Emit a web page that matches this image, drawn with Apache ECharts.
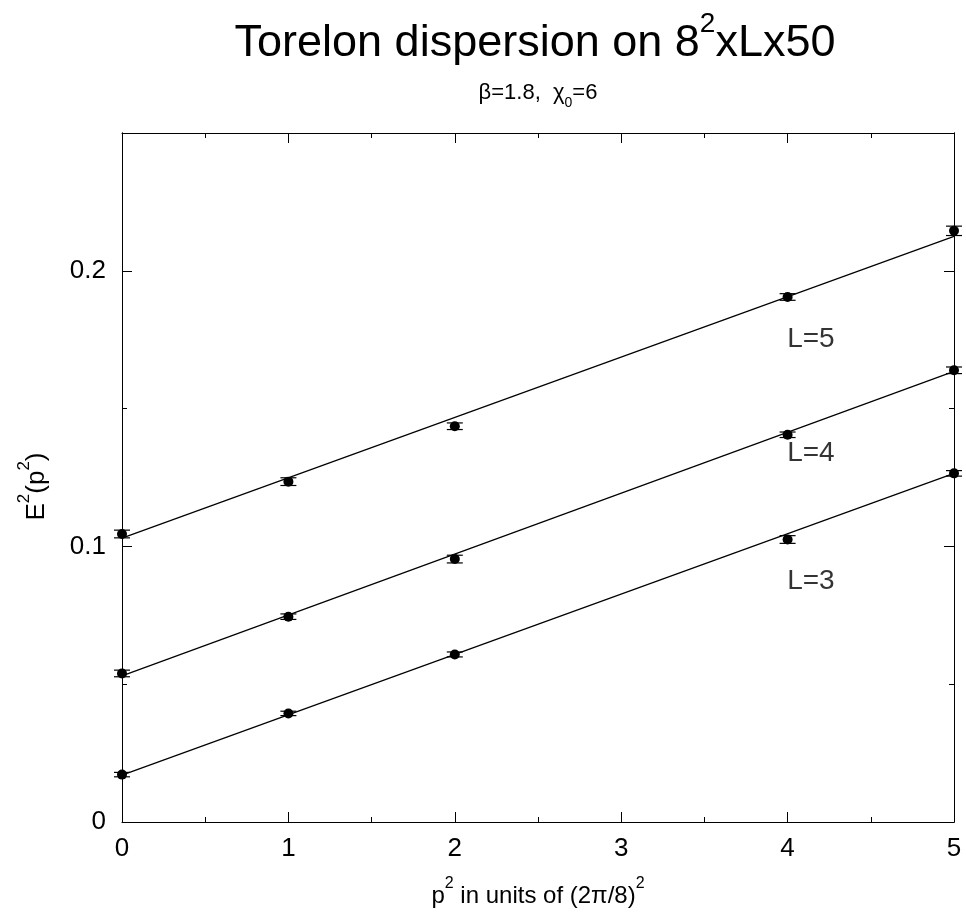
<!DOCTYPE html>
<html>
<head>
<meta charset="utf-8">
<script src="https://cdn.jsdelivr.net/npm/echarts@6/dist/echarts.min.js"></script>
<style>
  html, body { margin: 0; padding: 0; background: #fff; }
  #chart { width: 966px; height: 913px; }
</style>
</head>
<body>
<div id="chart"></div>
<script>
// momentum squared, in units of (2pi/8)^2
const p2 = [0, 1, 2, 4, 5];

// E^2(p^2) for each spatial size L
const e2L3 = [0.0172, 0.0394, 0.0608, 0.1025, 0.1265];
const e2L4 = [0.0539, 0.0745, 0.0954, 0.1405, 0.1639];
const e2L5 = [0.1045, 0.1235, 0.1436, 0.1905, 0.2145];

// error bars (half widths)
const errL3 = [0.0008, 0.0008, 0.0009, 0.0014, 0.0010];
const errL4 = [0.0012, 0.0010, 0.0014, 0.0010, 0.0012];
const errL5 = [0.0014, 0.0014, 0.0012, 0.0012, 0.0017];

// straight line fits, end points
const fitX = [0, 5];
const fitL3 = [0.0170, 0.1265];
const fitL4 = [0.0530, 0.1635];
const fitL5 = [0.1030, 0.2125];

// curve labels
const labelText = ["L=5", "L=4", "L=3"];
const labelX = [4.14, 4.14, 4.14];
const labelY = [0.1753, 0.1338, 0.0875];

const xTicks = [0, 1, 2, 3, 4, 5];
const yTicks = [0, 0.1, 0.2];

const font = '"Liberation Sans", Arial, Helvetica, sans-serif';
const black = "#000";

const chart = echarts.init(document.getElementById("chart"), null, { renderer: "canvas" });

function pairs(xs, ys) {
  return xs.map((x, i) => [x, ys[i]]);
}

function errRows(ys, errs) {
  return p2.map((x, i) => [x, ys[i] - errs[i], ys[i] + errs[i]]);
}

function renderErrorBar(params, api) {
  const x = api.value(0);
  const lo = api.coord([x, api.value(1)]);
  const hi = api.coord([x, api.value(2)]);
  const half = 8;
  const style = { stroke: black, lineWidth: 1.2 };
  return {
    type: "group",
    children: [
      { type: "line", shape: { x1: lo[0], y1: lo[1], x2: hi[0], y2: hi[1] }, style },
      { type: "line", shape: { x1: lo[0] - half, y1: lo[1], x2: lo[0] + half, y2: lo[1] }, style },
      { type: "line", shape: { x1: hi[0] - half, y1: hi[1], x2: hi[0] + half, y2: hi[1] }, style },
    ],
  };
}

function xAxisDef(position, showLabel) {
  return {
    type: "value",
    position,
    min: 0,
    max: 5,
    interval: 1,
    axisLine: { show: true, onZero: false, lineStyle: { color: black, width: 1 } },
    axisTick: { show: true, inside: true, length: 10, lineStyle: { color: black } },
    minorTick: { show: true, splitNumber: 2, length: 5, lineStyle: { color: black } },
    splitLine: { show: false },
    minorSplitLine: { show: false },
    axisLabel: {
      show: showLabel,
      color: black,
      fontSize: 26,
      fontFamily: font,
      margin: 14,
      formatter: (v) => (xTicks.includes(v) ? String(v) : ""),
    },
  };
}

function yAxisDef(position, interval, tickLen, showLabel) {
  return {
    type: "value",
    position,
    min: 0,
    max: 0.25,
    interval,
    axisLine: { show: true, onZero: false, lineStyle: { color: black, width: 1 } },
    axisTick: { show: true, inside: true, length: tickLen, lineStyle: { color: black } },
    splitLine: { show: false },
    axisLabel: {
      show: showLabel,
      color: black,
      fontSize: 26,
      fontFamily: font,
      margin: 16,
      showMaxLabel: false,
      formatter: (v) => {
        const hit = yTicks.find((t) => Math.abs(t - v) < 1e-9);
        return hit === undefined ? "" : String(hit);
      },
    },
  };
}

const pointSeries = [e2L3, e2L4, e2L5].map((ys) => ({
  type: "scatter",
  data: pairs(p2, ys),
  symbol: "circle",
  symbolSize: 10,
  itemStyle: { color: black, opacity: 1 },
  clip: false,
  z: 5,
}));

const errorSeries = [
  [e2L3, errL3],
  [e2L4, errL4],
  [e2L5, errL5],
].map(([ys, errs]) => ({
  type: "custom",
  data: errRows(ys, errs),
  renderItem: renderErrorBar,
  encode: { x: 0, y: [1, 2] },
  clip: false,
  z: 4,
}));

const fitSeries = [fitL3, fitL4, fitL5].map((ys) => ({
  type: "line",
  data: pairs(fitX, ys),
  showSymbol: false,
  symbol: "none",
  lineStyle: { color: black, width: 1.2 },
  z: 3,
}));

chart.setOption({
  backgroundColor: "#fff",
  animation: false,
  grid: { left: 122, right: 12, top: 133, bottom: 88, containLabel: false },
  xAxis: [
    {
      ...xAxisDef("bottom", true),
      name: "{a|p}{s|2}{a| in units of (2π/8)}{s|2}",
      nameLocation: "middle",
      nameGap: 54,
      nameTextStyle: {
        rich: {
          a: { fontSize: 24, fontFamily: font, color: black, verticalAlign: "bottom", lineHeight: 32 },
          s: { fontSize: 16, fontFamily: font, color: black, verticalAlign: "top", lineHeight: 32 },
        },
      },
    },
    xAxisDef("top", false),
  ],
  yAxis: [
    {
      ...yAxisDef("left", 0.1, 10, true),
      name: "{a|E}{s|2}{a|(p}{s|2}{a|)}",
      nameLocation: "middle",
      nameRotate: 90,
      nameGap: 72,
      nameTextStyle: {
        padding: [0, 18, 0, 0],
        rich: {
          a: { fontSize: 26, fontFamily: font, color: black, verticalAlign: "bottom", lineHeight: 34 },
          s: { fontSize: 17, fontFamily: font, color: black, verticalAlign: "top", lineHeight: 34 },
        },
      },
    },
    yAxisDef("left", 0.05, 5, false),
    yAxisDef("right", 0.1, 10, false),
    yAxisDef("right", 0.05, 5, false),
  ],
  graphic: [
    {
      type: "text",
      x: 535,
      y: 38,
      style: {
        text: "{t|Torelon dispersion on 8}{s|2}{t|xLx50}",
        align: "center",
        verticalAlign: "middle",
        rich: {
          t: { fontSize: 45, fontFamily: font, fill: black, verticalAlign: "bottom", lineHeight: 56 },
          s: { fontSize: 28, fontFamily: font, fill: black, verticalAlign: "top", lineHeight: 56 },
        },
      },
    },
    {
      type: "text",
      x: 538,
      y: 96,
      style: {
        text: "{t|β=1.8,  χ}{b|0}{t|=6}",
        align: "center",
        verticalAlign: "middle",
        rich: {
          t: { fontSize: 22, fontFamily: font, fill: black, verticalAlign: "top", lineHeight: 28 },
          b: { fontSize: 14, fontFamily: font, fill: black, verticalAlign: "bottom", lineHeight: 28 },
        },
      },
    },
  ],
  series: [
    ...fitSeries,
    ...errorSeries,
    ...pointSeries,
    {
      type: "scatter",
      data: labelText.map((t, i) => ({ value: [labelX[i], labelY[i]], name: t })),
      symbolSize: 0,
      silent: true,
      label: {
        show: true,
        position: "inside",
        formatter: (p) => p.name,
        color: black,
        fontSize: 28,
        fontFamily: font,
      },
      z: 6,
    },
  ],
});
</script>
</body>
</html>
